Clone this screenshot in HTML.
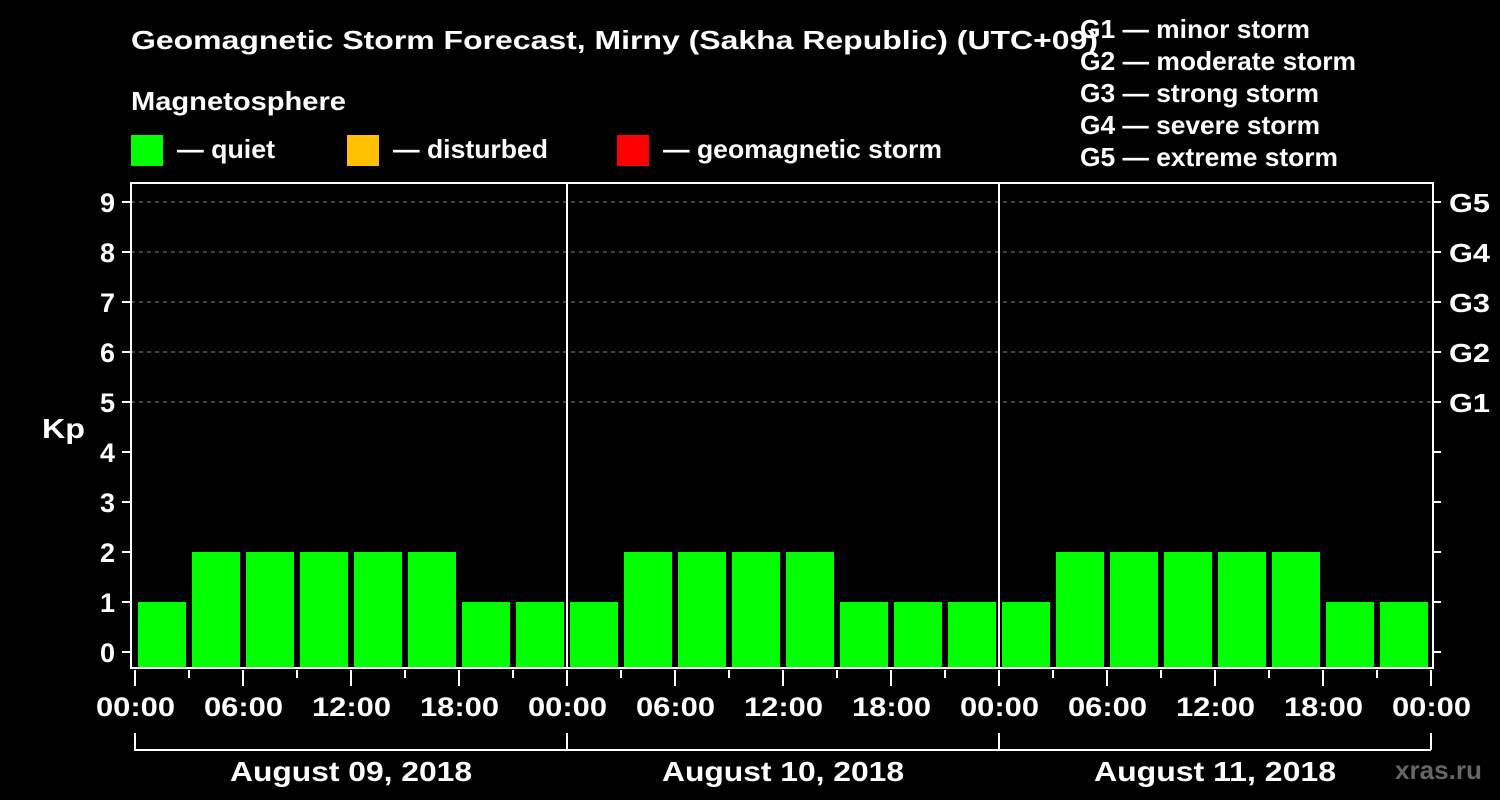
<!DOCTYPE html>
<html><head><meta charset="utf-8"><style>
body{margin:0;background:#000;width:1500px;height:800px;overflow:hidden}
svg{display:block;font-family:"Liberation Sans",Arial,sans-serif;font-weight:bold}
</style></head><body>
<svg id="chart" width="1500" height="800">
<rect width="1500" height="800" fill="#000"/>
<text x="131" y="49" fill="#fff" font-size="26" textLength="967" lengthAdjust="spacingAndGlyphs">Geomagnetic Storm Forecast, Mirny (Sakha Republic) (UTC+09)</text>
<text x="131" y="110" fill="#fff" font-size="26" textLength="215" lengthAdjust="spacingAndGlyphs">Magnetosphere</text>
<g><rect x="131" y="135" width="32" height="31" fill="#00ff00"/><text x="177" y="158" fill="#fff" font-size="26" textLength="98" lengthAdjust="spacingAndGlyphs">— quiet</text></g>
<g><rect x="347" y="135" width="32" height="31" fill="#ffc000"/><text x="393" y="158" fill="#fff" font-size="26" textLength="155" lengthAdjust="spacingAndGlyphs">— disturbed</text></g>
<g><rect x="617" y="135" width="32" height="31" fill="#ff0000"/><text x="663" y="158" fill="#fff" font-size="26" textLength="279" lengthAdjust="spacingAndGlyphs">— geomagnetic storm</text></g>
<g fill="#fff" font-size="26">
<text x="1080" y="38" textLength="230" lengthAdjust="spacingAndGlyphs">G1 — minor storm</text>
<text x="1080" y="70" textLength="276" lengthAdjust="spacingAndGlyphs">G2 — moderate storm</text>
<text x="1080" y="102" textLength="239" lengthAdjust="spacingAndGlyphs">G3 — strong storm</text>
<text x="1080" y="134" textLength="240" lengthAdjust="spacingAndGlyphs">G4 — severe storm</text>
<text x="1080" y="166" textLength="258" lengthAdjust="spacingAndGlyphs">G5 — extreme storm</text>
</g>
<text x="42" y="438" fill="#fff" font-size="28" textLength="43" lengthAdjust="spacingAndGlyphs">Kp</text>
<text x="1395" y="779" fill="#666" font-size="26" textLength="87" lengthAdjust="spacingAndGlyphs">xras.ru</text>
<g id="grid"></g><g id="bars"></g><g id="axes"></g>
</svg>
<script>
const days = ["August 09, 2018","August 10, 2018","August 11, 2018"];
const kpValues = [1,2,2,2,2,2,1,1, 1,2,2,2,2,1,1,1, 1,2,2,2,2,2,1,1];
const yTicks = [0,1,2,3,4,5,6,7,8,9];
const gLabels = ["G1","G2","G3","G4","G5"];
const gLevels = [5,6,7,8,9];
const hourLabels = ["00:00","06:00","12:00","18:00"];

const NS="http://www.w3.org/2000/svg";
const X0=135, DAYW=432, SLOT=54;
const yS=v=>652-50*v;
const xS=h=>X0+h/24*DAYW;
function mk(tag,attrs,parent,text){const e=document.createElementNS(NS,tag);for(const k in attrs)e.setAttribute(k,attrs[k]);if(text!==undefined)e.textContent=text;parent.appendChild(e);return e;}
const grid=document.getElementById('grid'),bars=document.getElementById('bars'),axes=document.getElementById('axes');

gLevels.forEach((lv,i)=>{
 const l=mk('line',{x1:131,x2:1433,y1:yS(lv),y2:yS(lv),stroke:'#888','stroke-dasharray':'4,4','stroke-width':1},grid);
 
 
 const t=mk('text',{x:1449,y:yS(lv)+10,fill:'#fff','font-size':26,textLength:41,lengthAdjust:'spacingAndGlyphs'},axes,gLabels[i]);
 
 
});
kpValues.forEach((v,i)=>{
 const r=mk('rect',{x:X0+i*SLOT+3,y:yS(v),width:48,height:668-yS(v),fill:'#00ff00'},bars);
 
 
});
const fr=mk('rect',{x:131,y:183,width:1302,height:485,fill:'none',stroke:'#fff','stroke-width':2},axes);


for(let d=1;d<days.length;d++){
 const l=mk('line',{x1:X0+d*DAYW,x2:X0+d*DAYW,y1:183,y2:668,stroke:'#fff','stroke-width':2},axes);
 
 
}
yTicks.forEach(v=>{
 mk('line',{x1:122,x2:131,y1:yS(v),y2:yS(v),stroke:'#fff','stroke-width':2},axes);
 mk('line',{x1:1433,x2:1441,y1:yS(v),y2:yS(v),stroke:'#fff','stroke-width':2},axes);
 const t=mk('text',{x:115,y:yS(v)+10,fill:'#fff','font-size':27,'text-anchor':'end'},axes,String(v));
 
 
});
function xlab(x,s){
 const t=mk('text',{x:x-39,y:716,fill:'#fff','font-size':27,textLength:79,lengthAdjust:'spacingAndGlyphs'},axes,s);
 
 
}
for(let d=0;d<days.length;d++){
 for(let k=0;k<8;k++){
  const x=xS(d*24+k*3), major=k%2===0;
  mk('line',{x1:x,x2:x,y1:670,y2:major?686:678,stroke:'#fff','stroke-width':2},axes);
  if(major) xlab(x,hourLabels[k/2]);
 }
 const a=X0+d*DAYW,b=a+DAYW;
 mk('path',{d:`M${a} 733V750H${b}`,stroke:'#fff','stroke-width':2,fill:'none'},axes);
 const t=mk('text',{x:a+DAYW/2-121,y:781,fill:'#fff','font-size':28,textLength:242,lengthAdjust:'spacingAndGlyphs'},axes,days[d]);
 
 
}
const xe=xS(72);
mk('line',{x1:xe,x2:xe,y1:670,y2:686,stroke:'#fff','stroke-width':2},axes);
mk('line',{x1:xe,x2:xe,y1:733,y2:750,stroke:'#fff','stroke-width':2},axes);
xlab(xe,"00:00");
</script>
</body></html>
